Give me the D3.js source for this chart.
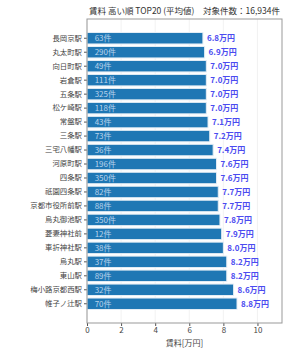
<!DOCTYPE html>
<html>
<head>
<meta charset="utf-8">
<script src="https://cdn.jsdelivr.net/npm/d3@7"></script>
<style>
  body { margin: 0; background: #fff; }
  text { font-family: "Noto Sans CJK JP", "Noto Sans", sans-serif; }
</style>
</head>
<body>
<svg id="chart"></svg>
<script>
const stations = ["長岡京駅", "丸太町駅", "向日町駅", "岩倉駅", "五条駅", "松ケ崎駅", "常盤駅", "三条駅",
  "三宅八幡駅", "河原町駅", "四条駅", "祇園四条駅", "京都市役所前駅", "烏丸御池駅", "菱妻神社前",
  "車折神社駅", "烏丸駅", "東山駅", "梅小路京都西駅", "帷子ノ辻駅"];
const rents = [6.8, 6.9, 7.0, 7.0, 7.0, 7.0, 7.1, 7.2, 7.4, 7.6, 7.6, 7.7, 7.7, 7.8, 7.9, 8.0, 8.2, 8.2, 8.6, 8.8];
const counts = [63, 290, 49, 111, 325, 118, 43, 73, 36, 196, 350, 82, 88, 350, 12, 38, 37, 89, 32, 70];
const xTicks = [0, 2, 4, 6, 8, 10];

const width = 288, height = 360;
const margin = { top: 19, right: 6, bottom: 37, left: 87 };
const innerW = width - margin.left - margin.right;
const innerH = height - margin.top - margin.bottom;

const data = stations.map((s, i) => ({ station: s, rent: rents[i], count: counts[i] }));

const svg = d3.select("#chart").attr("width", width).attr("height", height);
const g = svg.append("g").attr("transform", `translate(${margin.left},${margin.top})`);

const x = d3.scaleLinear().domain([0, d3.max(rents) * 1.3]).range([0, innerW]);
const y = d3.scaleBand().domain(stations).range([11, innerH - 11]).padding(0.18);

// grid
g.selectAll(".grid").data(xTicks).enter().append("line")
  .attr("x1", d => x(d)).attr("x2", d => x(d))
  .attr("y1", 0).attr("y2", innerH)
  .attr("stroke", "#efefef").attr("stroke-width", 0.8);

// bars
g.selectAll(".bar").data(data).enter().append("rect")
  .attr("x", 0).attr("y", d => y(d.station))
  .attr("width", d => x(d.rent)).attr("height", y.bandwidth())
  .attr("fill", "#1f77b4").attr("stroke", "#e4edf5").attr("stroke-width", 1);

// counts inside bars
g.selectAll(".cnt").data(data).enter().append("text")
  .attr("x", x(0.45)).attr("y", d => y(d.station) + y.bandwidth() / 2)
  .attr("dy", "0.35em").attr("fill", "#b9d3ec").style("font-size", "8px")
  .text(d => d.count + "件");

// value labels
g.selectAll(".val").data(data).enter().append("text")
  .attr("x", d => x(d.rent) + 4).attr("y", d => y(d.station) + y.bandwidth() / 2)
  .attr("dy", "0.35em").attr("fill", "#4b4bf0").style("font-size", "8px").style("font-weight", "bold")
  .text(d => d.rent.toFixed(1) + "万円");

// axes
const yAxis = g.append("g").call(d3.axisLeft(y).tickSize(3).tickPadding(2));
yAxis.select(".domain").remove();
yAxis.selectAll("line").attr("stroke", "#555");
yAxis.selectAll("text").attr("fill", "#444").style("font-size", "7.4px")
  .style("font-family", "'Noto Sans CJK JP', sans-serif");

const xAxis = g.append("g").attr("transform", `translate(0,${innerH})`)
  .call(d3.axisBottom(x).tickValues(xTicks).tickSize(3).tickPadding(1));
xAxis.select(".domain").remove();
xAxis.selectAll("line").attr("stroke", "#555");
xAxis.selectAll("text").attr("fill", "#444").style("font-size", "8px")
  .style("font-family", "'Noto Sans CJK JP', sans-serif");

// frame
g.append("rect").attr("width", innerW).attr("height", innerH)
  .attr("fill", "none").attr("stroke", "#999").attr("stroke-width", 1);

// title and axis label
svg.append("text").attr("x", margin.left + innerW / 2).attr("y", 14)
  .attr("text-anchor", "middle").attr("fill", "#333").style("font-size", "8.5px")
  .text("賃料 高い順 TOP20 (平均値)　対象件数：16,934件");

svg.append("text").attr("x", margin.left + innerW / 2).attr("y", 346)
  .attr("text-anchor", "middle").attr("fill", "#444").style("font-size", "8px")
  .text("賃料[万円]");
</script>
</body>
</html>
